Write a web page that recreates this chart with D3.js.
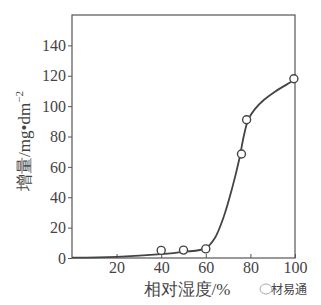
<!DOCTYPE html>
<html>
<head>
<meta charset="utf-8">
<script src="https://cdn.jsdelivr.net/npm/d3@7"></script>
<style>
  body { margin: 0; background: #fff; }
  text { font-family: "Liberation Serif", "DejaVu Serif", serif; fill: #444; }
</style>
</head>
<body>
<div id="chart"></div>
<script>
// measured points (relative humidity %, weight gain mg/dm^2)
const pointX = [40, 50, 60, 76, 78.3, 99.5]
const pointY = [5, 5.2, 6, 68.5, 91, 118]
// smooth fitted curve through the data
const curveX = [0, 20, 40, 50, 60, 64, 68, 72, 75, 77, 79, 82, 86, 91, 96, 100]
const curveY = [0.3, 0.8, 2.5, 4, 6.5, 13, 27, 47, 65, 80, 91, 98, 104, 109.5, 114, 117.5]
const xTicks = [20, 40, 60, 80, 100]
const yTicks = [0, 20, 40, 60, 80, 100, 120, 140]

const W = 321, H = 305
const m = {top: 15, right: 26, bottom: 47, left: 72}

const svg = d3.select("#chart").append("svg")
    .attr("width", W).attr("height", H)

const x = d3.scaleLinear().domain([0, 100]).range([m.left, W - m.right])
const y = d3.scaleLinear().domain([0, 160]).range([H - m.bottom, m.top])

// frame
svg.append("rect")
    .attr("x", x(0)).attr("y", y(160))
    .attr("width", x(100) - x(0)).attr("height", y(0) - y(160))
    .attr("fill", "none").attr("stroke", "#555").attr("stroke-width", 1.2)

// y axis, ticks outside
const yAxis = svg.append("g")
    .attr("transform", `translate(${x(0)},0)`)
    .call(d3.axisLeft(y).tickValues(yTicks).tickSize(4).tickPadding(2))
yAxis.select(".domain").remove()
yAxis.selectAll("line").attr("stroke", "#555")
yAxis.selectAll("text").style("font-size", "16px").attr("fill", "#444")

// x axis, ticks inside
const xAxis = svg.append("g")
    .attr("transform", `translate(0,${y(0)})`)
    .call(d3.axisBottom(x).tickValues(xTicks).tickSize(-4).tickPadding(4))
xAxis.select(".domain").remove()
xAxis.selectAll("line").attr("stroke", "#555")
xAxis.selectAll("text").style("font-size", "16px").attr("fill", "#444")

// curve
const curveData = curveX.map((v, i) => [v, curveY[i]])
svg.append("path")
    .datum(curveData)
    .attr("d", d3.line().x(d => x(d[0])).y(d => y(d[1])).curve(d3.curveCatmullRom))
    .attr("fill", "none")
    .attr("stroke", "#444")
    .attr("stroke-width", 1.8)

// points
svg.selectAll("circle.pt")
    .data(pointX.map((v, i) => [v, pointY[i]]))
    .join("circle")
    .attr("class", "pt")
    .attr("cx", d => x(d[0]))
    .attr("cy", d => y(d[1]))
    .attr("r", 4)
    .attr("fill", "#fff")
    .attr("stroke", "#444")
    .attr("stroke-width", 1.4)

// labels
svg.append("text")
    .attr("transform", "translate(30,141) rotate(-90)")
    .attr("text-anchor", "middle")
    .style("font-size", "17px")
    .text("增量/mg•dm")
    .append("tspan").attr("dy", -7).style("font-size", "11px").text("−2")

svg.append("text")
    .attr("x", 187).attr("y", 295)
    .attr("text-anchor", "middle")
    .style("font-size", "17px")
    .text("相对湿度/%")

// watermark
svg.append("text")
    .attr("x", 289).attr("y", 294)
    .attr("text-anchor", "middle")
    .style("font-size", "12px")
    .style("font-family", "'Noto Sans CJK SC', sans-serif")
    .attr("fill", "#999")
    .text("材易通")
svg.append("ellipse")
    .attr("cx", 266).attr("cy", 289).attr("rx", 6).attr("ry", 5)
    .attr("fill", "none").attr("stroke", "#aaa").attr("stroke-width", 1)
</script>
</body>
</html>
